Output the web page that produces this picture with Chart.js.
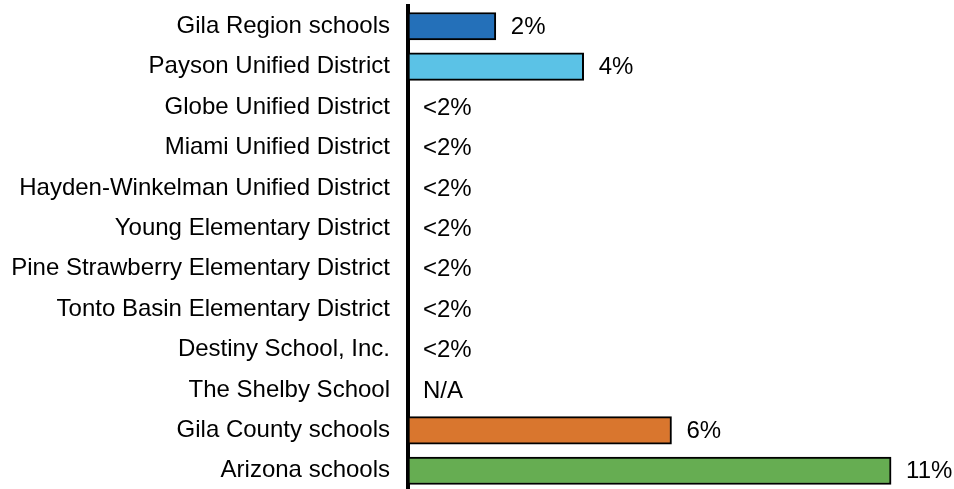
<!DOCTYPE html>
<html>
<head>
<meta charset="utf-8">
<script src="https://cdn.jsdelivr.net/npm/chart.js@4/dist/chart.umd.min.js"></script>
<style>
html,body{margin:0;padding:0;background:#fff;overflow:hidden;}
#wrap{width:954px;height:489px;position:relative;overflow:hidden;}
</style>
</head>
<body>
<div id="wrap"><canvas id="c" width="954" height="491"></canvas></div>
<script>
const categories = [
  "Gila Region schools",
  "Payson Unified District",
  "Globe Unified District",
  "Miami Unified District",
  "Hayden-Winkelman Unified District",
  "Young Elementary District",
  "Pine Strawberry Elementary District",
  "Tonto Basin Elementary District",
  "Destiny School, Inc.",
  "The Shelby School",
  "Gila County schools",
  "Arizona schools"
];
const values = [2, 4, null, null, null, null, null, null, null, null, 6, 11];
const valueLabels = ["2%", "4%", "<2%", "<2%", "<2%", "<2%", "<2%", "<2%", "<2%", "N/A", "6%", "11%"];
const barColors = ["#2470b9", "#5bc2e6", null, null, null, null, null, null, null, null, "#d9762e", "#66ad52"];

const FONT = "'Liberation Sans', Arial, sans-serif";

const labelPlugin = {
  id: 'valueLabels',
  afterDatasetsDraw(chart) {
    const ctx = chart.ctx;
    const xs = chart.scales.x, ys = chart.scales.y;
    ctx.save();
    ctx.font = "24px " + FONT;
    ctx.fillStyle = "#000";
    ctx.textAlign = "left";
    ctx.textBaseline = "middle";
    valueLabels.forEach((t, i) => {
      const v = values[i] == null ? 0 : values[i];
      const x = xs.getPixelForValue(v) + 15;
      const y = ys.getPixelForValue(i);
      ctx.fillText(t, x, y + 1);
    });
    ctx.restore();
  }
};

new Chart(document.getElementById('c'), {
  type: 'bar',
  data: {
    labels: categories,
    datasets: [{
      data: values,
      backgroundColor: barColors,
      borderColor: "#000",
      borderWidth: 2,
      borderSkipped: false,
      barThickness: 27.5
    }]
  },
  options: {
    indexAxis: 'y',
    responsive: false,
    animation: false,
    layout: { padding: { top: 6, bottom: 0, right: 19, left: 0 } },
    plugins: { legend: { display: false }, tooltip: { enabled: false } },
    scales: {
      x: {
        display: false,
        min: 0,
        max: 12,
        grid: { display: false }
      },
      y: {
        grid: { display: false, drawTicks: false },
        border: { display: true, color: "#000", width: 4 },
        ticks: {
          color: "#000",
          font: { family: FONT, size: 24 },
          padding: 18,
          autoSkip: false
        },
        afterFit(scale) {
          scale.width = 408;
          scale.paddingTop = 0;
          scale.paddingBottom = 0;
        }
      }
    }
  },
  plugins: [labelPlugin]
});
</script>
</body>
</html>
